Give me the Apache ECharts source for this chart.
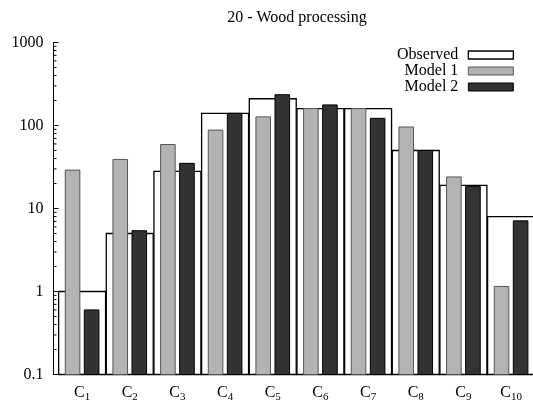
<!DOCTYPE html>
<html><head><meta charset="utf-8">
<script src="https://cdn.jsdelivr.net/npm/echarts@6/dist/echarts.min.js"></script>
<style>html,body{margin:0;padding:0;background:#fff}#c{width:533px;height:407px}</style>
</head><body><div id="c"></div>
<script>
const chartTitle = '20 - Wood processing';
const categories = ['C1','C2','C3','C4','C5','C6','C7','C8','C9','C10'];
const seriesNames = ['Observed','Model 1','Model 2'];
const observed = [1, 5, 28, 140, 210, 160, 160, 50, 19, 8];
const model1 = [29, 39, 59, 88, 127, 160, 160, 96, 24, 1.15];
const model2 = [0.6, 5.4, 35, 140, 235, 177, 122, 50, 18.5, 7.1];
const yTicks = [0.1, 1, 10, 100, 1000];
const minorMultipliers = [2, 3, 4, 5, 6, 7, 8, 9];

const FONT = 'Liberation Serif, Times New Roman, serif';
const yMin = yTicks[0], yMax = yTicks[yTicks.length - 1];
const minorVals = [];
yTicks.slice(0, -1).forEach(d => minorMultipliers.forEach(m => minorVals.push(+(d * m).toPrecision(3))));

const styles = {
  'Observed': {fill: '#ffffff', stroke: '#000000', lineWidth: 1.3},
  'Model 1': {fill: '#b3b3b3', stroke: '#555555', lineWidth: 1},
  'Model 2': {fill: '#333333', stroke: '#000000', lineWidth: 1}
};

function barSeries(name, values, offset, width) {
  const st = styles[name];
  return {
    type: 'custom', name: name, z: 2,
    itemStyle: {color: st.fill, borderColor: st.stroke, borderWidth: st.lineWidth},
    data: values.map((v, i) => [i, v]),
    renderItem: function (params, api) {
      const i = api.value(0), v = api.value(1);
      const l = api.coord([i + offset - width / 2, v]);
      const r = api.coord([i + offset + width / 2, v]);
      const b = api.coord([i + offset, yMin]);
      return {type: 'rect', shape: {x: l[0], y: l[1], width: r[0] - l[0], height: b[1] - l[1]},
        style: {fill: st.fill, stroke: st.stroke, lineWidth: st.lineWidth}};
    }
  };
}

const chart = echarts.init(document.getElementById('c'));
chart.setOption({
  animation: false,
  backgroundColor: '#fff',
  title: {text: chartTitle, left: 292, top: 5, textAlign: 'center',
    textStyle: {fontFamily: FONT, fontSize: 16, fontWeight: 'normal', color: '#000'}},
  legend: {
    data: seriesNames.map(n => ({name: n, icon: 'rect',
      itemStyle: {color: styles[n].fill, borderColor: styles[n].stroke, borderWidth: styles[n].lineWidth}})),
    orient: 'vertical', align: 'right', right: 14, top: 42, itemWidth: 45, itemHeight: 8, itemGap: 0,
    selectedMode: false,
    textStyle: {fontFamily: FONT, fontSize: 16, color: '#000', lineHeight: 16, padding: [0, 5, 0, 0]}
  },
  grid: {left: 53.5, right: 0, top: 42.5, bottom: 32.5},
  xAxis: {
    type: 'value', min: -0.6, max: 9.46,
    axisLine: {show: true, onZero: false, lineStyle: {color: '#000', width: 1}},
    axisTick: {show: false}, splitLine: {show: false},
    axisLabel: {
      customValues: categories.map((_, i) => i),
      margin: 8,
      formatter: function (v) {
        const c = categories[Math.round(v)];
        return c ? '{m|' + c[0] + '}{s|' + c.slice(1) + '}' : '';
      },
      rich: {
        m: {fontFamily: FONT, fontSize: 16, color: '#000'},
        s: {fontFamily: FONT, fontSize: 11, color: '#000', padding: [9, 0, 0, 0]}
      }
    }
  },
  yAxis: {
    type: 'log', logBase: 10, min: yMin, max: yMax,
    axisLine: {show: true, onZero: false, lineStyle: {color: '#000', width: 1}},
    axisTick: {show: true, inside: true, length: 5, customValues: yTicks, lineStyle: {color: '#000'}},
    splitLine: {show: false},
    axisLabel: {customValues: yTicks, fontFamily: FONT, fontSize: 16, color: '#000', margin: 10,
      formatter: v => String(v)}
  },
  series: [
    barSeries('Observed', observed, 0, 0.985),
    barSeries('Model 1', model1, -0.2, 0.306),
    barSeries('Model 2', model2, 0.2, 0.306),
    {
      type: 'custom', name: 'minor', silent: true, z: 3,
      data: minorVals.map(v => [0, v]),
      renderItem: function (params, api) {
        const p = api.coord([0, api.value(1)]);
        const x = params.coordSys.x;
        return {type: 'line', shape: {x1: x, y1: p[1], x2: x + 3, y2: p[1]}, style: {stroke: '#000', lineWidth: 1}};
      }
    }
  ]
});
</script></body></html>
